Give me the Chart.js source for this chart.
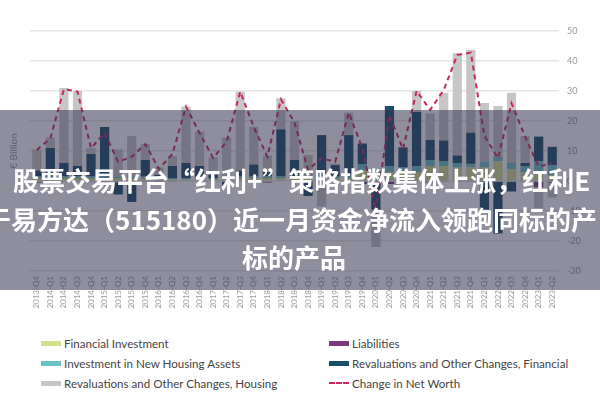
<!DOCTYPE html>
<html>
<head>
<meta charset="utf-8">
<script src="https://cdn.jsdelivr.net/npm/chart.js@4/dist/chart.umd.min.js"></script>
<style>
  html, body { margin:0; padding:0; background:#fff; }
  #wrap { position:relative; width:600px; height:400px; overflow:hidden; font-family:Lato, 'Noto Sans', sans-serif; }
  #cbox { position:absolute; left:0; top:0; width:600px; height:320px; }
  #legend { position:absolute; left:41px; top:333px; display:grid; grid-template-columns:288px 260px; grid-auto-rows:20px; }
  .li { display:flex; align-items:center; font-size:11.6px; color:#444; white-space:nowrap; }
  .sw { width:20px; height:5px; margin-right:3px; }
  #overlay { position:absolute; left:0; top:110px; width:600px; height:180px; background:rgba(50,50,75,0.55); z-index:5; }
  .tl { position:absolute; color:#fff; font-family:'Noto Sans CJK SC', sans-serif; font-weight:bold; font-size:26px; line-height:26px; white-space:nowrap; }
</style>
</head>
<body>
<div id="wrap">
  <div id="cbox"><canvas id="c"></canvas></div>
  <div id="legend"></div>
  <div id="overlay">
    <span class="tl" style="left:13px; top:57px;">股票交易平台“红利+”策略指数集体上涨，红利E</span>
    <span class="tl" style="left:-15px; top:96px;">于易方达（515180）近一月资金净流入领跑同标的产</span>
    <span class="tl" style="left:242px; top:134px;">标的产品</span>
  </div>
</div>
<script>
const categories = ['2013-Q4',
  '2014-Q1','2014-Q2','2014-Q3','2014-Q4',
  '2015-Q1','2015-Q2','2015-Q3','2015-Q4',
  '2016-Q1','2016-Q2','2016-Q3','2016-Q4',
  '2017-Q1','2017-Q2','2017-Q3','2017-Q4',
  '2018-Q1','2018-Q2','2018-Q3','2018-Q4',
  '2019-Q1','2019-Q2','2019-Q3','2019-Q4',
  '2020-Q1','2020-Q2','2020-Q3','2020-Q4',
  '2021-Q1','2021-Q2','2021-Q3','2021-Q4',
  '2022-Q1','2022-Q2','2022-Q3','2022-Q4',
  '2023-Q1','2023-Q2'];

const financialInvestment = [1,1,1,1,1, 1,1,1,1, 0.5,0.5,0.5,0.5, 0.5,1,1,1, 1,1,1,1, 1,1,1,3.5, 2,3,3,3, 5,5,4.5,4.5, 4.5,6.5,4,3, 3,2];
const liabilities = [-0.5,-0.3,-0.3,-0.3,-0.3, -1.5,-0.5,-0.5,-0.3, -0.5,-0.3,0,0, 0,0,0,0, -0.5,0,0,0, -0.5,-0.3,0,-1, -0.5,-1,-0.5,0, -0.5,-0.3,-0.3,-0.3, -0.5,0,0,-0.3, -2,-0.5];
const investmentNewHousing = [0.5,0.5,0.5,0.5,0.5, 0.5,0.5,0.5,0.5, 0.5,0.5,0.5,0.5, 0.5,0.5,0.5,0.5, 0.5,0.5,0.5,0.5, 0.5,0.5,0.5,2, 1.5,2,1.5,2, 2,1.5,1.5,1.2, 2,1.5,2,2, 3.5,3.3];
const revaluationsFinancial = [2,9.5,4.5,3.5,7.5, 16.5,-4,-6.5,5.5, 1,4,5,4, 1,-1.5,2,4, 1.5,15.7,5.5,-5, 13.8,3.8,13.8,7, -9,20,6.7,18, 6.7,7,2.5,10.4, -9,-17.5,-3.5,1, 8.3,6.1];
const revaluationsHousing = [7,3.5,25,25,2, 0,9,13.5,5.3, 2.5,3.3,18.8,11.4, 6,13,26.3,12.6, 5.5,10.4,13,7.2, -8,0.5,7.5,0, -12.5,0,0,7, 8.8,15.9,34.1,27.6, 19.5,17,23.4,9, -7,-5];
const changeInNetWorth = [10.3,14.2,30.6,29.8,10.9, 16.1,6.4,8.1,12.3, 4,9,24.8,16, 7.7,13.1,29.8,18, 8.1,27.2,19.5,3.7, 7.6,6.4,22.8,11, -10,22,10.6,30, 23.7,30.3,42,42.8, 15,7.6,25.9,14.8, 4.8,5.9];

const yTicks = { min:-30, max:50, step:10 };

const colors = {
  fi:'#d5e08f', liab:'#7a3b7c', ih:'#67c3c5', rf:'#1a4d6a', rh:'#c6c6c6', nw:'#c8285f'
};

const barCommon = { type:'bar', barPercentage:0.68, categoryPercentage:1, borderWidth:0, order:1 };

const chart = new Chart(document.getElementById('c'), {
  data: {
    labels: categories,
    datasets: [
      Object.assign({ label:'Financial Investment', data:financialInvestment, backgroundColor:colors.fi }, barCommon),
      Object.assign({ label:'Liabilities', data:liabilities, backgroundColor:colors.liab }, barCommon),
      Object.assign({ label:'Investment in New Housing Assets', data:investmentNewHousing, backgroundColor:colors.ih }, barCommon),
      Object.assign({ label:'Revaluations and Other Changes, Financial', data:revaluationsFinancial, backgroundColor:colors.rf }, barCommon),
      Object.assign({ label:'Revaluations and Other Changes, Housing', data:revaluationsHousing, backgroundColor:colors.rh }, barCommon),
      { type:'line', label:'Change in Net Worth', data:changeInNetWorth, borderColor:colors.nw, backgroundColor:colors.nw,
        borderWidth:2, borderDash:[5,4], pointRadius:0, tension:0, fill:false, stack:'nw', order:0 }
    ]
  },
  options: {
    responsive:true, maintainAspectRatio:false, animation:false,
    layout:{ padding:{ top:31, left:0, right:0, bottom:0 } },
    plugins:{ legend:{ display:false }, tooltip:{ enabled:false } },
    scales:{
      x:{ stacked:true, grid:{ display:false, drawTicks:false }, border:{ display:false },
          ticks:{ autoSkip:false, maxRotation:90, minRotation:90, color:'#9a9a9a', font:{ family:'Lato', size:8 }, padding:5 },
          afterFit:(s)=>{ s.height = 49; } },
      y:{ position:'right', stacked:true, min:yTicks.min, max:yTicks.max,
          ticks:{ stepSize:yTicks.step, color:'#999', font:{ family:'Lato', size:9 }, padding:8 },
          grid:{ color:'#e6e6e6', lineWidth:1.5, drawTicks:false }, border:{ display:false },
          afterFit:(s)=>{ s.width = 41; } },
      yL:{ position:'left', display:true, min:yTicks.min, max:yTicks.max,
          grid:{ display:false, drawTicks:false }, border:{ display:false }, ticks:{ display:false },
          title:{ display:true, text:'€ Billion', color:'#999', font:{ family:'Lato', size:10 }, padding:{ top:8, bottom:0 } },
          afterFit:(s)=>{ s.width = 30; } }
    }
  }
});

// HTML legend built from the chart's datasets (2 columns, row-major)
const leg = document.getElementById('legend');
chart.data.datasets.forEach(ds => {
  const item = document.createElement('div');
  item.className = 'li';
  const sw = document.createElement('span');
  sw.className = 'sw';
  if (ds.type === 'line') {
    sw.style.height = '0px';
    sw.style.borderTop = '2px dashed ' + ds.borderColor;
  } else {
    sw.style.background = ds.backgroundColor;
  }
  const tx = document.createElement('span');
  tx.textContent = ds.label;
  item.appendChild(sw); item.appendChild(tx);
  leg.appendChild(item);
});
</script>
</body>
</html>
